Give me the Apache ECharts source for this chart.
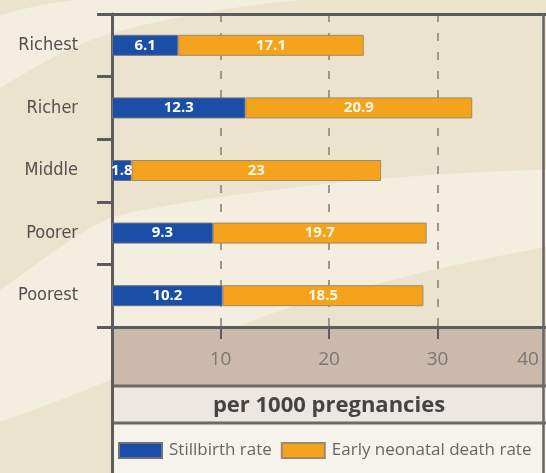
<!DOCTYPE html>
<html>
<head>
<meta charset="utf-8">
<script src="https://cdn.jsdelivr.net/npm/echarts@6/dist/echarts.min.js"></script>
<style>
html,body{margin:0;padding:0;background:#ebe3cd;}
#chart{width:546px;height:473px;}
</style>
</head>
<body>
<div id="chart"></div>
<script>
var categories = ['Richest', 'Richer', 'Middle', 'Poorer', 'Poorest'];
var stillbirth = [6.1, 12.3, 1.8, 9.3, 10.2];
var neonatal = [17.1, 20.9, 23, 19.7, 18.5];
var seriesNames = ['Stillbirth rate', 'Early neonatal death rate'];
var xTicks = [0, 10, 20, 30, 40];
var axisTitle = 'per 1000 pregnancies';

var chart = echarts.init(document.getElementById('chart'), null, {renderer: 'canvas'});

var light = '#f3eedf';
var lineCol = '#5c5c5c';

// decorative background swirl: sample cubic bezier segments into polygon points
function bez(p0, p1, p2, p3, n) {
  var out = [];
  for (var i = 0; i <= n; i++) {
    var t = i / n, u = 1 - t;
    out.push([
      u*u*u*p0[0] + 3*u*u*t*p1[0] + 3*u*t*t*p2[0] + t*t*t*p3[0],
      u*u*u*p0[1] + 3*u*u*t*p1[1] + 3*u*t*t*p2[1] + t*t*t*p3[1]
    ]);
  }
  return out;
}
var swirl1 = [[0,15],[40,5],[75,0],[300,0]]
  .concat(bez([300,0],[230,6],[150,22],[112,33],12))
  .concat(bez([112,33],[70,45],[30,70],[0,88],12));
var swirl2 = bez([0,290],[40,262],[80,230],[112,217],12)
  .concat(bez([112,217],[200,195],[400,172],[546,170],16))
  .concat([[546,247]])
  .concat(bez([546,247],[420,270],[330,295],[273,313],12))
  .concat(bez([273,313],[200,340],[120,380],[0,422],12));

var option = {
  backgroundColor: '#ebe3cd',
  animation: false,
  grid: {left: 112, right: 0, top: 14, bottom: 146, containLabel: false},
  legend: {
    data: seriesNames,
    left: 118, top: 442, padding: 0,
    itemWidth: 43, itemHeight: 15, itemGap: 9,
    icon: 'rect',
    textStyle: {fontFamily: 'Open Sans', fontSize: 17, color: '#666', padding: [0, 0, 0, 2]}
  },
  xAxis: {
    type: 'value',
    min: xTicks[0], max: xTicks[xTicks.length - 1], interval: 10,
    position: 'bottom',
    name: axisTitle,
    nameLocation: 'middle',
    nameGap: 68,
    nameTextStyle: {fontFamily: 'Open Sans', fontSize: 22, fontWeight: 'bold', color: '#444'},
    axisLine: {show: true, lineStyle: {color: lineCol, width: 3}},
    axisTick: {show: true, inside: false, length: 12, customValues: [10, 20, 30], lineStyle: {color: lineCol, width: 2}},
    axisLabel: {
      show: true, margin: 23,
      fontFamily: 'Open Sans', fontSize: 19, color: '#7a7672',
      customValues: [10, 20, 30, 40],
      formatter: function (v) { return v === 40 ? '{m|40}' : String(v); },
      rich: {m: {fontFamily: 'Open Sans', fontSize: 19, color: '#7a7672', padding: [0, 36, 0, 0]}}
    },
    splitLine: {show: true, lineStyle: {color: '#9b968e', width: 2, type: [8, 11]}}
  },
  yAxis: {
    type: 'category',
    data: categories,
    inverse: true,
    axisLine: {show: true, lineStyle: {color: lineCol, width: 3}},
    axisTick: {show: true, length: 15, lineStyle: {color: lineCol, width: 3}},
    axisLabel: {
      margin: 34,
      fontFamily: 'DejaVu Sans Condensed, Open Sans, sans-serif',
      fontSize: 18, color: '#505050'
    },
    splitLine: {show: false}
  },
  graphic: [
    {type: 'polygon', z: -20, silent: true, shape: {points: swirl1}, style: {fill: light}},
    {type: 'polygon', z: -20, silent: true, shape: {points: swirl2}, style: {fill: light}},
    {type: 'rect', z: -10, silent: true, shape: {x: 112, y: 327, width: 434, height: 59}, style: {fill: '#cbb9ac'}},
    {type: 'rect', z: -10, silent: true, shape: {x: 112, y: 386, width: 434, height: 37}, style: {fill: '#ece7e2'}},
    {type: 'rect', z: -10, silent: true, shape: {x: 112, y: 423, width: 434, height: 50}, style: {fill: '#f6f3ec'}},
    {type: 'line', z: 50, silent: true, shape: {x1: 97, y1: 14.5, x2: 546, y2: 14.5}, style: {stroke: lineCol, lineWidth: 3}},
    {type: 'line', z: 50, silent: true, shape: {x1: 543.5, y1: 14, x2: 543.5, y2: 473}, style: {stroke: '#666', lineWidth: 2.5}},
    {type: 'line', z: 50, silent: true, shape: {x1: 112, y1: 386, x2: 546, y2: 386}, style: {stroke: '#6a6a6a', lineWidth: 3}},
    {type: 'line', z: 50, silent: true, shape: {x1: 112, y1: 423, x2: 546, y2: 423}, style: {stroke: '#6a6a6a', lineWidth: 3}},
    {type: 'line', z: 50, silent: true, shape: {x1: 112.5, y1: 327, x2: 112.5, y2: 473}, style: {stroke: lineCol, lineWidth: 3}}
  ],
  series: [
    {
      name: seriesNames[0], type: 'bar', stack: 'total', barWidth: 21,
      itemStyle: {color: '#1b4ea6', borderColor: '#6f7180', borderWidth: 1},
      label: {show: true, position: 'inside', color: '#fff', fontFamily: 'Open Sans', fontWeight: 'bold', fontSize: 15},
      data: stillbirth
    },
    {
      name: seriesNames[1], type: 'bar', stack: 'total', barWidth: 21,
      itemStyle: {color: '#f5a31c', borderColor: '#9a8a6e', borderWidth: 1},
      label: {show: true, position: 'inside', color: '#fff8e8', fontFamily: 'Open Sans', fontWeight: 'bold', fontSize: 15},
      data: neonatal
    }
  ]
};
chart.setOption(option);
</script>
</body>
</html>
